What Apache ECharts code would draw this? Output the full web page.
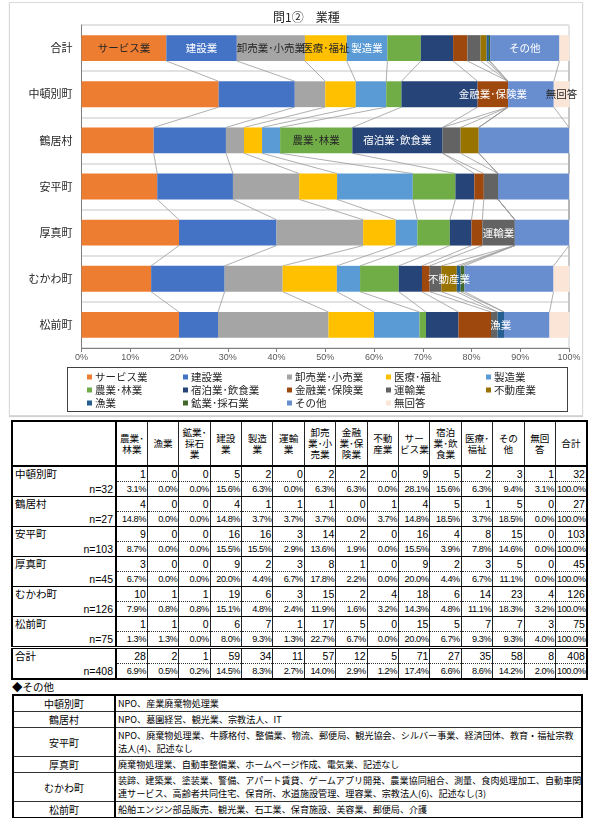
<!DOCTYPE html>
<html>
<head>
<meta charset="utf-8">
<script src="https://cdn.jsdelivr.net/npm/echarts@6/dist/echarts.min.js"></script>
<style>
  html, body { margin: 0; padding: 0; background: #fff; }
  body { font-family: "Noto Sans CJK JP", "Noto Sans", sans-serif; color: #000; }
  #page { position: relative; width: 591px; height: 818px; overflow: hidden; }
  #panel { position: absolute; left: 9px; top: 2px; width: 574px; height: 414px;
           border: 1px solid #d9d9d9; box-sizing: border-box; box-shadow: 0 1px 1px rgba(0,0,0,0.18); }
  #chart { position: absolute; left: 0; top: 0; width: 591px; height: 420px; }
  #legendBox { position: absolute; left: 67px; top: 367px; width: 501px; height: 45px;
               border: 1.5px solid #404040; box-sizing: border-box; }
  table { border-collapse: collapse; table-layout: fixed; }
  #counts { position: absolute; left: 11px; top: 420px; width: 575px; border: 2px solid #000; }
  #counts td { padding: 0 1px; overflow: hidden; white-space: nowrap; }
  #counts .hd { height: 43px; text-align: center; font-size: 9.6px; line-height: 11px;
                border-left: 1px solid #222; border-bottom: 2px solid #000; vertical-align: middle; }
  #counts .hd.first { border-left: none; border-right: 2px solid #000; }
  #counts .name { font-size: 10.5px; text-align: left; height: 14px; line-height: 14px; padding-left: 2px;
                  border-right: 2px solid #000; }
  #counts .nlab { font-size: 10.5px; text-align: right; height: 14px; line-height: 14px; padding-right: 2px;
                  border-right: 2px solid #000; font-family: "Liberation Sans", Arial, sans-serif; }
  #counts .num { font-family: "Liberation Sans", Arial, sans-serif; font-size: 10.5px; text-align: right;
                 line-height: 14px; border-left: 1px solid #222; border-bottom: 1px dotted #333; }
  #counts .pct { font-family: "Liberation Sans", Arial, sans-serif; font-size: 9.2px; letter-spacing: -0.45px;
                 text-align: right; line-height: 14px; border-left: 1px solid #222; }
  #counts tr.blockEnd td { border-bottom: 1px solid #000; }
  #counts tr.beforeTotal td { border-bottom: 3px double #000; }
  #otherTitle { position: absolute; left: 12px; top: 679px; font-size: 10.5px; }
  #others { position: absolute; left: 12px; top: 694px; width: 571px; border: 2px solid #000; }
  #others td { border-bottom: 1px solid #333; font-size: 9.1px; line-height: 13px; white-space: nowrap; }
  #others td.town { text-align: center; font-size: 10px; border-right: 2px solid #000; }
  #others td.desc { text-align: left; padding: 1px 0 1px 2px; }
</style>
</head>
<body>
<div id="page">
  <div id="panel"></div>
  <div id="legendBox"></div>
  <div id="chart"></div>
  <table id="counts"></table>
  <div id="otherTitle">◆その他</div>
  <table id="others"></table>
</div>
<script>
// Respondent counts by industry, in table order of towns (last entry = 合計)
const tableRows = ['中頓別町', '鶴居村', '安平町', '厚真町', 'むかわ町', '松前町', '合計'];
const respondents = [32, 27, 103, 45, 126, 75, 408];

const agriForestry     = [1, 4, 9, 3, 10, 1, 28];
const fishery          = [0, 0, 0, 0, 1, 1, 2];
const mining           = [0, 0, 0, 0, 1, 0, 1];
const construction     = [5, 4, 16, 9, 19, 6, 59];
const manufacturing    = [2, 1, 16, 2, 6, 7, 34];
const transport        = [0, 1, 3, 3, 3, 1, 11];
const wholesaleRetail  = [2, 1, 14, 8, 15, 17, 57];
const financeInsurance = [2, 0, 2, 1, 2, 5, 12];
const realEstate       = [0, 1, 0, 0, 4, 0, 5];
const services         = [9, 4, 16, 9, 18, 15, 71];
const lodgingFood      = [5, 5, 4, 2, 6, 5, 27];
const medicalWelfare   = [2, 1, 8, 3, 14, 7, 35];
const others           = [3, 5, 15, 5, 23, 7, 58];
const noAnswer         = [1, 0, 0, 0, 4, 3, 8];

// Table column headings (line breaks as printed)
const tableHeads = ['農業･<br>林業', '漁業', '鉱業･<br>採石<br>業', '建設<br>業', '製造<br>業', '運輸<br>業',
  '卸売<br>業･小<br>売業', '金融<br>業･保<br>険業', '不動<br>産業', 'サー<br>ビス業', '宿泊<br>業･飲<br>食業',
  '医療･<br>福祉', 'その<br>他', '無回<br>答', '合計'];
const tableColumns = [agriForestry, fishery, mining, construction, manufacturing, transport,
  wholesaleRetail, financeInsurance, realEstate, services, lodgingFood, medicalWelfare, others, noAnswer, respondents];

// Free-text answers for "その他"
const otherTowns = ['中頓別町', '鶴居村', '安平町', '厚真町', 'むかわ町', '松前町'];
const otherAnswers = [
  ['NPO、産業廃棄物処理業'],
  ['NPO、墓園経営、観光業、宗教法人、IT'],
  ['NPO、廃棄物処理業、牛豚格付、整備業、物流、郵便局、観光協会、シルバー事業、経済団体、教育・福祉宗教', '法人(4)、記述なし'],
  ['廃棄物処理業、自動車整備業、ホームページ作成、電気業、記述なし'],
  ['装蹄、建築業、塗装業、警備、アパート賃貸、ゲームアプリ開発、農業協同組合、測量、食肉処理加工、自動車関', '連サービス、高齢者共同住宅、保育所、水道施設管理、理容業、宗教法人(6)、記述なし(3)'],
  ['船舶エンジン部品販売、観光業、石工業、保育施設、美容業、郵便局、介護']
];

// Chart rows, top to bottom: 合計 first, then towns
const chartRows = ['合計', '中頓別町', '鶴居村', '安平町', '厚真町', 'むかわ町', '松前町'];
const chartRowToTable = [6, 0, 1, 2, 3, 4, 5];

// Stack order with colours; labelRow = chart row where the series name is printed
const stackSeries = [
  { name: 'サービス業',     counts: services,         color: '#ED7D31', labelRow: 0, labelColor: '#262626' },
  { name: '建設業',         counts: construction,     color: '#4472C4', labelRow: 0, labelColor: '#ffffff' },
  { name: '卸売業･小売業',  counts: wholesaleRetail,  color: '#A5A5A5', labelRow: 0, labelColor: '#262626' },
  { name: '医療･福祉',      counts: medicalWelfare,   color: '#FFC000', labelRow: 0, labelColor: '#262626' },
  { name: '製造業',         counts: manufacturing,    color: '#5B9BD5', labelRow: 0, labelColor: '#ffffff' },
  { name: '農業･林業',      counts: agriForestry,     color: '#70AD47', labelRow: 2, labelColor: '#262626' },
  { name: '宿泊業･飲食業',  counts: lodgingFood,      color: '#264478', labelRow: 2, labelColor: '#ffffff' },
  { name: '金融業･保険業',  counts: financeInsurance, color: '#9E480E', labelRow: 1, labelColor: '#ffffff' },
  { name: '運輸業',         counts: transport,        color: '#636363', labelRow: 4, labelColor: '#ffffff' },
  { name: '不動産業',       counts: realEstate,       color: '#997300', labelRow: 5, labelColor: '#ffffff' },
  { name: '漁業',           counts: fishery,          color: '#255E91', labelRow: 6, labelColor: '#ffffff' },
  { name: '鉱業･採石業',    counts: mining,           color: '#43682B', labelRow: -1, labelColor: '#ffffff' },
  { name: 'その他',         counts: others,           color: '#698ED0', labelRow: 0, labelColor: '#ffffff' },
  { name: '無回答',         counts: noAnswer,         color: '#FBE5D6', labelRow: 1, labelColor: '#262626' }
];

// Legend columns (reading order of the printed legend)
const legendColumns = [
  ['サービス業', '農業･林業', '漁業'],
  ['建設業', '宿泊業･飲食業', '鉱業･採石業'],
  ['卸売業･小売業', '金融業･保険業', 'その他'],
  ['医療･福祉', '運輸業', '無回答'],
  ['製造業', '不動産業']
];
const legendLefts = [82, 178, 282, 381, 481];

const BAR_RATIO = 0.56;
const share = (c, n) => c * 100 / n;

// ---------- stacked bars ----------
const barSeries = stackSeries.map(s => ({
  name: s.name,
  type: 'bar',
  stack: 'all',
  barWidth: (BAR_RATIO * 100) + '%',
  itemStyle: { color: s.color },
  z: 3,
  data: chartRows.map((row, r) => {
    const t = chartRowToTable[r];
    const item = { value: share(s.counts[t], respondents[t]) };
    if (r === s.labelRow) {
      item.label = { show: true, position: 'inside', formatter: '{a}', color: s.labelColor,
                     fontSize: 10.5, fontFamily: '"Noto Sans CJK JP", sans-serif' };
    }
    return item;
  })
}));

// ---------- series lines between neighbouring bars ----------
const cumulative = chartRows.map((row, r) => {
  const t = chartRowToTable[r];
  let acc = 0;
  return stackSeries.map(s => (acc += share(s.counts[t], respondents[t])));
});
const connectorData = [];
stackSeries.forEach((s, k) => {
  for (let r = 0; r < chartRows.length - 1; r++) {
    connectorData.push([cumulative[r][k], cumulative[r + 1][k], r]);
  }
});
const connectorSeries = {
  type: 'custom',
  name: 'series-lines',
  silent: true,
  z: 2,
  encode: { x: [0, 1], y: 2 },
  data: connectorData,
  renderItem: function (params, api) {
    const row = api.value(2);
    const p1 = api.coord([api.value(0), row]);
    const p2 = api.coord([api.value(1), row + 1]);
    const half = api.size([0, 1])[1] * BAR_RATIO / 2;
    return {
      type: 'line',
      shape: { x1: p1[0], y1: p1[1] + half, x2: p2[0], y2: p2[1] - half },
      style: { stroke: '#9a9a9a', lineWidth: 0.8 }
    };
  }
};

const legends = legendColumns.map((col, i) => ({
  orient: 'vertical',
  left: legendLefts[i],
  top: 366,
  itemGap: 1,
  itemWidth: 5,
  itemHeight: 5,
  icon: 'rect',
  selectedMode: false,
  data: col,
  textStyle: { fontSize: 10.5, lineHeight: 12, color: '#262626', padding: [0, 0, 0, -2] }
}));

const chart = echarts.init(document.getElementById('chart'), null, { renderer: 'canvas' });
chart.setOption({
  animation: false,
  textStyle: { fontFamily: '"Noto Sans CJK JP", "Noto Sans", sans-serif' },
  title: {
    text: '問1②　業種',
    left: 268, top: 6,
    textStyle: { fontSize: 12, fontWeight: 'normal', color: '#262626' }
  },
  legend: legends,
  grid: { left: 81.5, top: 25, width: 487.5, height: 323, show: true,
          borderColor: '#c8c8c8', borderWidth: 1, containLabel: false },
  xAxis: {
    type: 'value', min: 0, max: 100, interval: 10,
    axisLine: { show: true, lineStyle: { color: '#7f7f7f', width: 1 } },
    axisTick: { show: true, length: 4, lineStyle: { color: '#7f7f7f' } },
    axisLabel: { formatter: '{value}%', fontSize: 9, color: '#595959', margin: 5,
                 fontFamily: '"Liberation Sans", Arial, sans-serif' },
    splitLine: { show: false }
  },
  yAxis: {
    type: 'category', inverse: true, data: chartRows,
    axisLine: { show: true, lineStyle: { color: '#7f7f7f', width: 1 } },
    axisTick: { show: false },
    axisLabel: { fontSize: 11, color: '#262626', margin: 9 },
    splitLine: { show: true, lineStyle: { color: '#e2e2e2', width: 2 } }
  },
  series: barSeries.concat([connectorSeries])
});

// ---------- count / share table ----------
(function buildCounts() {
  const tbl = document.getElementById('counts');
  let html = '<colgroup><col style="width:104px">';
  for (let i = 0; i < tableHeads.length; i++) html += '<col style="width:31.4px">';
  html += '</colgroup><tr><td class="hd first"></td>';
  tableHeads.forEach(h => { html += '<td class="hd">' + h + '</td>'; });
  html += '</tr>';
  tableRows.forEach((town, t) => {
    const n = respondents[t];
    html += '<tr><td class="name">' + town + '</td>';
    tableColumns.forEach(col => { html += '<td class="num">' + col[t] + '</td>'; });
    html += '</tr>';
    const cls = t === tableRows.length - 2 ? 'beforeTotal' : (t === tableRows.length - 1 ? '' : 'blockEnd');
    html += '<tr class="' + cls + '"><td class="nlab">n=' + n + '</td>';
    tableColumns.forEach(col => { html += '<td class="pct">' + share(col[t], n).toFixed(1) + '%</td>'; });
    html += '</tr>';
  });
  tbl.innerHTML = html;
})();

// ---------- "その他" answers table ----------
(function buildOthers() {
  const tbl = document.getElementById('others');
  let html = '<colgroup><col style="width:102px"><col></colgroup>';
  otherTowns.forEach((town, i) => {
    html += '<tr><td class="town">' + town + '</td><td class="desc">' + otherAnswers[i].join('<br>') + '</td></tr>';
  });
  tbl.innerHTML = html;
})();
</script>
</body>
</html>
